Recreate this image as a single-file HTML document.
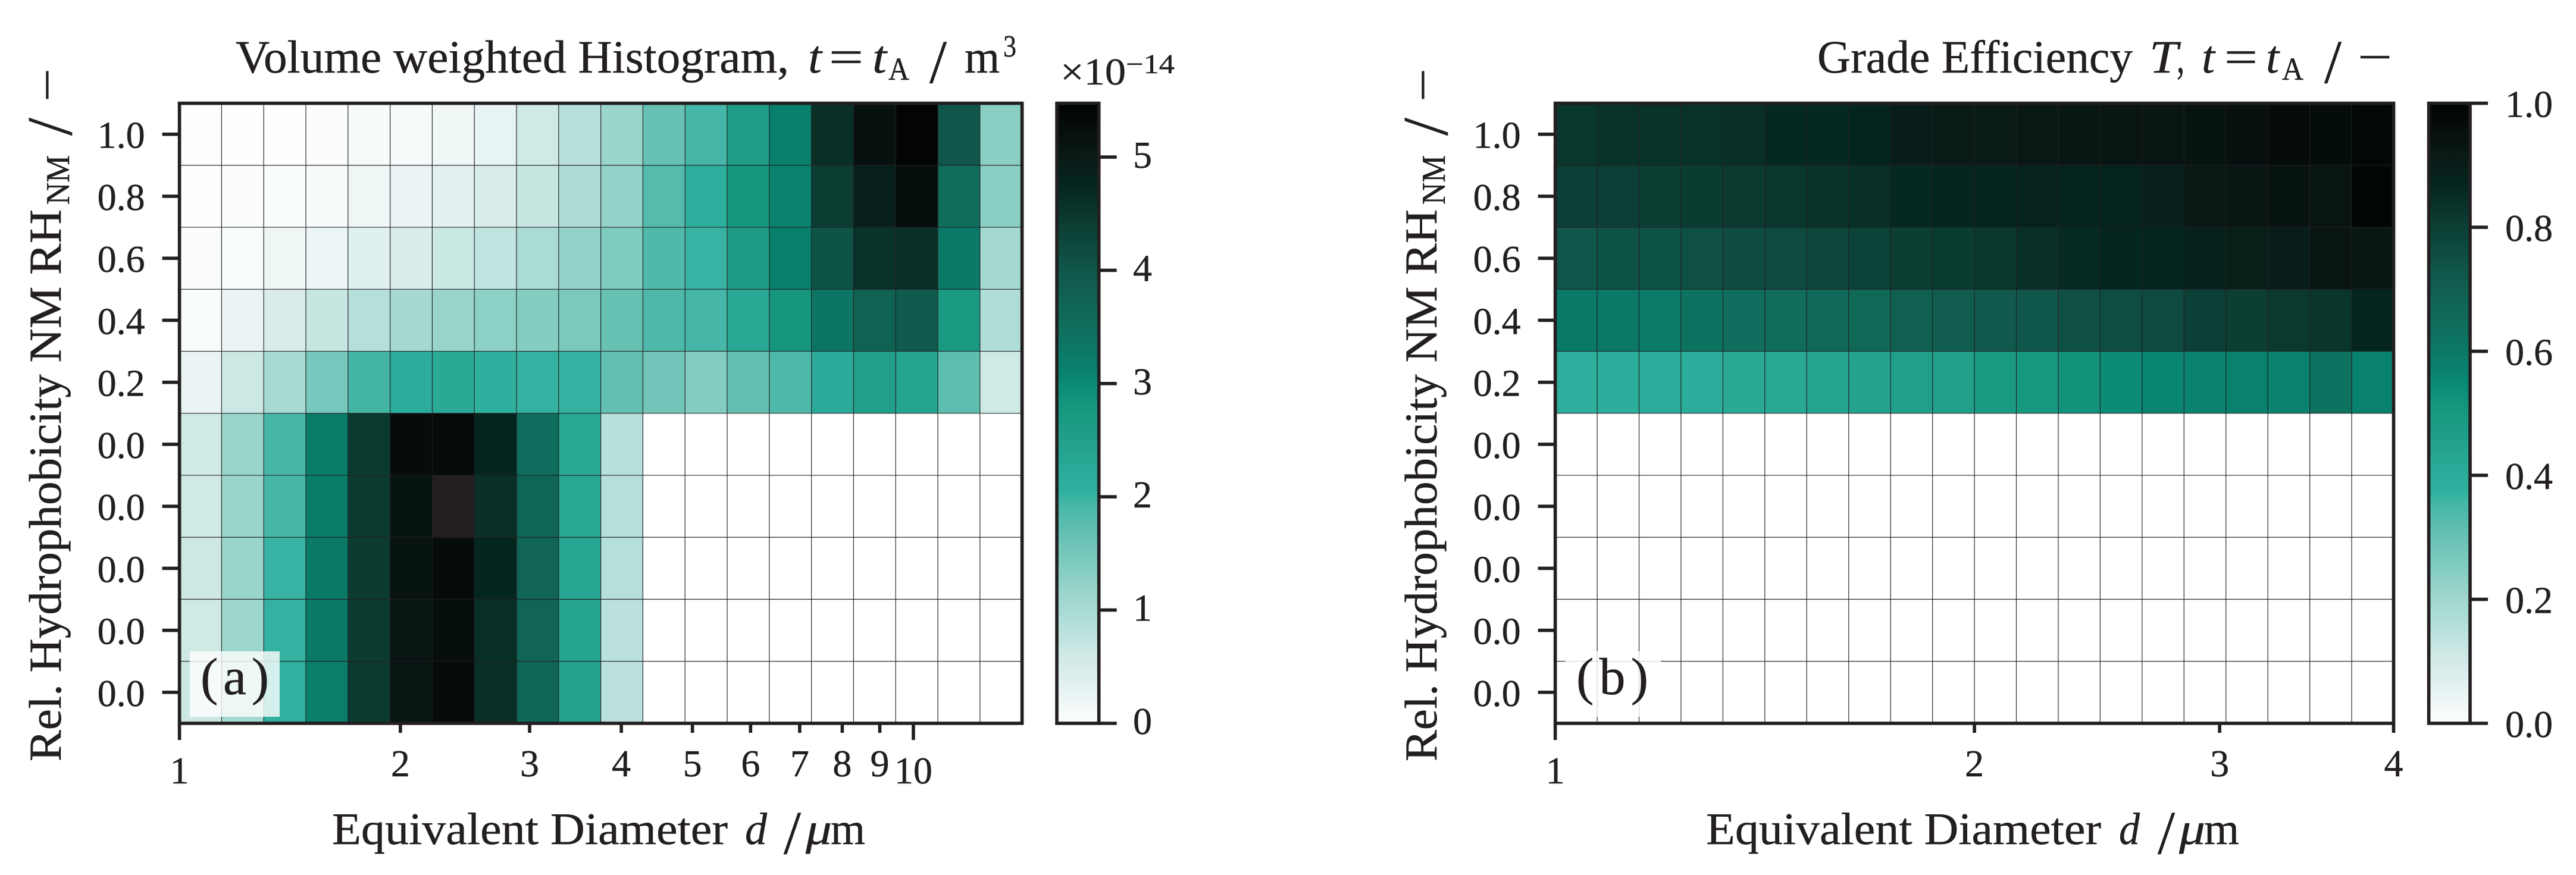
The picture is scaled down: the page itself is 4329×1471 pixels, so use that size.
<!DOCTYPE html>
<html lang="en">
<head>
<meta charset="utf-8">
<title>Volume weighted Histogram and Grade Efficiency</title>
<style>
html,body{margin:0;padding:0;background:#fff;}
svg{display:block;}
text{font-family:"Liberation Serif",serif;fill:#231f20;stroke:#231f20;stroke-width:0.5;text-rendering:geometricPrecision;}
.it{font-style:italic;}
</style>
</head>
<body>
<svg id="fig" xmlns="http://www.w3.org/2000/svg" width="4329" height="1471" viewBox="0 0 4329 1471">
<rect x="0" y="0" width="4329" height="1471" fill="#fff"/>
<g id="panelA"></g>
<g id="panelB"></g>

<g font-size="78">
<text x="396" y="122" textLength="930" lengthAdjust="spacingAndGlyphs">Volume weighted Histogram,</text>
<text class="it" x="1358" y="122" textLength="23" lengthAdjust="spacingAndGlyphs">t</text>
<text x="1393" y="122" textLength="58" lengthAdjust="spacingAndGlyphs">=</text>
<text class="it" x="1466" y="122" textLength="24" lengthAdjust="spacingAndGlyphs">t</text>
<text x="1493" y="134" font-size="54" textLength="35" lengthAdjust="spacingAndGlyphs">A</text>
<text x="1562" y="139" font-size="104" textLength="29" lengthAdjust="spacingAndGlyphs">/</text>
<text x="1621" y="122" textLength="59" lengthAdjust="spacingAndGlyphs">m</text>
<text x="1686" y="95" font-size="52" textLength="22" lengthAdjust="spacingAndGlyphs">3</text>
</g>
<g font-size="78">
<text x="3054" y="122" textLength="530" lengthAdjust="spacingAndGlyphs">Grade Efficiency</text>
<text class="it" x="3612" y="122" textLength="48" lengthAdjust="spacingAndGlyphs">T</text>
<text x="3658" y="122" textLength="13" lengthAdjust="spacingAndGlyphs">,</text>
<text class="it" x="3700" y="122" textLength="22" lengthAdjust="spacingAndGlyphs">t</text>
<text x="3738" y="122" textLength="56" lengthAdjust="spacingAndGlyphs">=</text>
<text class="it" x="3808" y="122" textLength="22" lengthAdjust="spacingAndGlyphs">t</text>
<text x="3835" y="134" font-size="54" textLength="36" lengthAdjust="spacingAndGlyphs">A</text>
<text x="3906" y="139" font-size="104" textLength="29" lengthAdjust="spacingAndGlyphs">/</text>
<text x="3962" y="122" textLength="58" lengthAdjust="spacingAndGlyphs">−</text>
</g>

<g font-size="76">
<text x="558" y="1419" textLength="665" lengthAdjust="spacingAndGlyphs">Equivalent Diameter</text>
<text class="it" x="1252" y="1419" textLength="37" lengthAdjust="spacingAndGlyphs">d</text>
<text x="1317" y="1435" font-size="104" textLength="29" lengthAdjust="spacingAndGlyphs">/</text>
<text class="it" x="1354" y="1419" textLength="44" lengthAdjust="spacingAndGlyphs">μ</text>
<text x="1396" y="1419" textLength="58" lengthAdjust="spacingAndGlyphs">m</text>
</g>
<g font-size="76">
<text x="2867" y="1419" textLength="664" lengthAdjust="spacingAndGlyphs">Equivalent Diameter</text>
<text class="it" x="3561" y="1419" textLength="35" lengthAdjust="spacingAndGlyphs">d</text>
<text x="3626" y="1435" font-size="104" textLength="29" lengthAdjust="spacingAndGlyphs">/</text>
<text class="it" x="3662" y="1419" textLength="44" lengthAdjust="spacingAndGlyphs">μ</text>
<text x="3704" y="1419" textLength="59" lengthAdjust="spacingAndGlyphs">m</text>
</g>

<g font-size="77">
<text transform="translate(102,1280) rotate(-90)" textLength="928" lengthAdjust="spacingAndGlyphs">Rel. Hydrophobicity NM RH</text>
<text transform="translate(116,344) rotate(-90)" font-size="56" textLength="83" lengthAdjust="spacingAndGlyphs">NM</text>
<text transform="translate(120,228) rotate(-90)" font-size="108" textLength="30" lengthAdjust="spacingAndGlyphs">/</text>
<text transform="translate(105,171) rotate(-90)" textLength="56" lengthAdjust="spacingAndGlyphs">−</text>
</g>
<g font-size="77">
<text transform="translate(2414,1280) rotate(-90)" textLength="928" lengthAdjust="spacingAndGlyphs">Rel. Hydrophobicity NM RH</text>
<text transform="translate(2428,344) rotate(-90)" font-size="56" textLength="83" lengthAdjust="spacingAndGlyphs">NM</text>
<text transform="translate(2432,228) rotate(-90)" font-size="108" textLength="30" lengthAdjust="spacingAndGlyphs">/</text>
<text transform="translate(2417,171) rotate(-90)" textLength="56" lengthAdjust="spacingAndGlyphs">−</text>
</g>

<g>
<text x="1782" y="142" font-size="64" textLength="110" lengthAdjust="spacingAndGlyphs">×10</text>
<text x="1892" y="123" font-size="46" textLength="82" lengthAdjust="spacingAndGlyphs">−14</text>
</g>
</svg>

<script>
/* Shared categories */
const rhLabels = ['1.0','0.8','0.6','0.4','0.2','0.0','0.0','0.0','0.0','0.0'];

/* Panel (a): volume weighted histogram, units of 1e-14 m^3 */
const histBinEdges = [1,1.1413,1.3026,1.4867,1.6968,1.9365,2.2102,2.5225,2.8790,3.2858,3.7502,4.2802,4.8851,5.5754,6.3634,7.2626,8.2890,9.4604,10.797,12.323,14.064];
const histXTicks = [1,2,3,4,5,6,7,8,9,10];
const histXTickLabels = ['1','2','3','4','5','6','7','8','9','10'];
const histXMajor = [1,10];
const histColorMax = 5.475;
const histColorTicks = [0,1,2,3,4,5];
const histColorTickLabels = ['0','1','2','3','4','5'];
const histValues = [
 [0,0,0,0.03,0.08,0.11,0.17,0.28,0.6,0.83,1.15,1.64,1.93,2.55,3.15,4.6,5.18,5.43,4.0,1.3],
 [0,0.03,0.05,0.08,0.2,0.25,0.35,0.48,0.69,0.95,1.23,1.8,2.1,2.8,3.1,4.4,4.88,5.24,3.53,1.3],
 [0.02,0.06,0.2,0.24,0.38,0.48,0.66,0.74,0.97,1.23,1.41,1.85,2.0,2.58,3.15,4.05,4.55,4.6,3.25,1.05],
 [0.06,0.25,0.46,0.68,0.87,1.03,1.17,1.28,1.36,1.46,1.64,1.87,1.93,2.29,2.8,3.37,3.75,3.9,2.7,0.92],
 [0.25,0.64,1.0,1.48,1.95,2.15,2.26,2.05,2.02,2.02,1.68,1.53,1.38,1.68,1.87,2.22,2.5,2.38,1.74,0.6],
 [0.6,1.15,1.91,3.2,4.45,5.28,5.3,4.75,3.5,2.29,0.83,null,null,null,null,null,null,null,null,null],
 [0.6,1.15,1.93,3.2,4.45,5.13,5.6,4.6,3.67,2.32,0.87,null,null,null,null,null,null,null,null,null],
 [0.62,1.15,2.0,3.25,4.43,5.13,5.28,4.75,3.69,2.36,0.87,null,null,null,null,null,null,null,null,null],
 [0.6,1.12,2.02,3.25,4.43,5.1,5.25,4.6,3.7,2.38,0.8,null,null,null,null,null,null,null,null,null],
 [0.62,1.03,2.04,3.18,4.45,5.1,5.3,4.6,3.65,2.44,0.8,null,null,null,null,null,null,null,null,null]
];

/* Panel (b): grade efficiency T */
const gradeBinEdges = [1,1.0718,1.1487,1.2311,1.3195,1.4142,1.5157,1.6245,1.7411,1.8661,2,2.1435,2.2974,2.4623,2.639,2.8284,3.0314,3.249,3.4822,3.7321,4];
const gradeXTicks = [1,2,3,4];
const gradeXTickLabels = ['1','2','3','4'];
const gradeXMajor = [1];
const gradeColorMax = 1;
const gradeColorTicks = [0,0.2,0.4,0.6,0.8,1];
const gradeColorTickLabels = ['0.0','0.2','0.4','0.6','0.8','1.0'];
const gradeValues = [
 [0.822,0.835,0.831,0.835,0.84,0.859,0.862,0.868,0.90,0.91,0.913,0.92,0.924,0.932,0.932,0.935,0.95,0.968,0.964,0.984],
 [0.798,0.798,0.80,0.807,0.813,0.822,0.831,0.84,0.862,0.866,0.868,0.88,0.873,0.877,0.891,0.92,0.928,0.935,0.932,0.988],
 [0.731,0.74,0.743,0.749,0.76,0.767,0.78,0.789,0.802,0.807,0.818,0.84,0.855,0.866,0.869,0.886,0.899,0.90,0.932,0.928],
 [0.594,0.597,0.588,0.621,0.639,0.648,0.658,0.665,0.694,0.703,0.721,0.727,0.749,0.758,0.767,0.798,0.80,0.815,0.827,0.868],
 [0.384,0.389,0.393,0.393,0.413,0.418,0.435,0.446,0.46,0.46,0.49,0.504,0.524,0.544,0.559,0.564,0.57,0.566,0.625,0.57],
 [null,null,null,null,null,null,null,null,null,null,null,null,null,null,null,null,null,null,null,null],
 [null,null,null,null,null,null,null,null,null,null,null,null,null,null,null,null,null,null,null,null],
 [null,null,null,null,null,null,null,null,null,null,null,null,null,null,null,null,null,null,null,null],
 [null,null,null,null,null,null,null,null,null,null,null,null,null,null,null,null,null,null,null,null],
 [null,null,null,null,null,null,null,null,null,null,null,null,null,null,null,null,null,null,null,null]
];

/* Colormap */
const cmapPositions = [0,0.009,0.051,0.084,0.11,0.148,0.183,0.219,0.258,0.303,0.349,0.374,0.424,0.471,0.504,0.548,0.572,0.652,0.731,0.813,0.869,0.913,1];
const cmapColors = ['#fdfefe','#f9fcfc','#e8f3f3','#d9eceb','#cfe9e5','#b9e1dd','#a8dad4','#96d3c9','#7ecbbf','#65c1b3','#49b7a8','#2fb09f','#28a795','#1f9c87','#179980','#0b8a75','#08806d','#106b5a','#10564a','#0b3a30','#04251e','#0a1a17','#020303'];
const overColor = '#231f20';
const ink = '#231f20';
const NS = 'http://www.w3.org/2000/svg';

function hexToRgb(h){ return [parseInt(h.substr(1,2),16),parseInt(h.substr(3,2),16),parseInt(h.substr(5,2),16)]; }
function colorFor(t){
  if(t>1) return overColor;
  if(t<=0) return cmapColors[0];
  for(let i=1;i<cmapPositions.length;i++){
    if(t<=cmapPositions[i]){
      const f=(t-cmapPositions[i-1])/(cmapPositions[i]-cmapPositions[i-1]);
      const a=hexToRgb(cmapColors[i-1]), b=hexToRgb(cmapColors[i]);
      return 'rgb('+Math.round(a[0]+(b[0]-a[0])*f)+','+Math.round(a[1]+(b[1]-a[1])*f)+','+Math.round(a[2]+(b[2]-a[2])*f)+')';
    }
  }
  return cmapColors[cmapColors.length-1];
}
function make(tag,attrs,parent){
  const el=document.createElementNS(NS,tag);
  for(const k in attrs) el.setAttribute(k,attrs[k]);
  parent.appendChild(el);
  return el;
}
function logScale(d0,d1,p0,p1){ return function(v){ return p0+(p1-p0)*(Math.log10(v)-Math.log10(d0))/(Math.log10(d1)-Math.log10(d0)); }; }
function linScale(d0,d1,p0,p1){ return function(v){ return p0+(p1-p0)*(v-d0)/(d1-d0); }; }

function drawPanel(root,o){
  const x=logScale(o.edges[0],o.edges[o.edges.length-1],o.left,o.right);
  const rows=o.values.length;
  const rowH=(o.bottom-o.top)/rows;
  const y=function(r){ return o.top+r*rowH; };

  const cells=make('g',{'shape-rendering':'crispEdges'},root);
  
  
  o.values.forEach(function(row,r){
    row.forEach(function(v,c){
      if(v===null) return;
      const rect=make('rect',{x:x(o.edges[c]),y:y(r),width:x(o.edges[c+1])-x(o.edges[c]),height:rowH,fill:colorFor(v/o.vmax)},cells);
      
      
    });
  });

  const grid=make('g',{stroke:ink,'stroke-width':1.2,'stroke-opacity':0.95},root);
  
  
  o.edges.slice(1,-1).forEach(function(e){
    const l=make('line',{x1:x(e),x2:x(e),y1:o.top,y2:o.bottom},grid);
    
    
  });
  for(let r=1;r<rows;r++){
    const l=make('line',{x1:o.left,x2:o.right,y1:y(r),y2:y(r)},grid);
    
    
  }

  const box=make('rect',{x:o.box[0],y:1095,width:o.box[1],height:110,fill:'#fff','fill-opacity':0.8},root);
  
  
  const plab=make('text',{x:o.label[0],y:1167,'font-size':88,textLength:o.label[1],lengthAdjust:'spacing'},root);
  plab.textContent=o.labelText;
  
  

  const spine=make('rect',{x:o.left,y:o.top,width:o.right-o.left,height:o.bottom-o.top,fill:'none',stroke:ink,'stroke-width':5.6},root);
  
  

  rhLabels.forEach(function(lab,r){
    const ty=y(r)+rowH/2;
    const t=make('line',{x1:o.left-29,x2:o.left,y1:ty,y2:ty,stroke:ink,'stroke-width':5.6},root);
    
    
    const tl=make('text',{x:o.left-58,y:ty+23,'font-size':64,'text-anchor':'end'},root);
    tl.textContent=lab;
    
    
  });

  o.xTicks.forEach(function(v,i){
    const major=o.xMajor.indexOf(v)>=0;
    const tx=x(v);
    const t=make('line',{x1:tx,x2:tx,y1:o.bottom,y2:o.bottom+(major?28:16),stroke:ink,'stroke-width':5.6},root);
    
    
    const tl=make('text',{x:tx,y:major?1317:1305,'font-size':64,'text-anchor':'middle'},root);
    tl.textContent=o.xTickLabels[i];
    
    
  });

  /* colorbar */
  const gid='cb-'+o.labelText.charAt(1);
  const defs=make('defs',{},root);
  const grad=make('linearGradient',{id:gid,x1:0,y1:1,x2:0,y2:0},defs);
  cmapPositions.forEach(function(p,i){ make('stop',{offset:p,'stop-color':cmapColors[i]},grad); });
  const cb=make('rect',{x:o.cbLeft,y:o.top,width:o.cbRight-o.cbLeft,height:o.bottom-o.top,fill:'url(#'+gid+')',stroke:ink,'stroke-width':5.6},root);
  
  
  const cy=linScale(0,o.vmax,o.bottom,o.top);
  o.cbTicks.forEach(function(v,i){
    const ty=cy(v);
    const t=make('line',{x1:o.cbRight,x2:o.cbRight+30,y1:ty,y2:ty,stroke:ink,'stroke-width':5.6},root);
    
    
    const tl=make('text',{x:o.cbLabelX,y:ty+o.cbLabelDy,'font-size':64},root);
    tl.textContent=o.cbTickLabels[i];
    
    
  });
}

drawPanel(document.getElementById('panelA'),{
  edges:histBinEdges,values:histValues,vmax:histColorMax,left:301.6,right:1717.6,top:173.6,bottom:1216,
  xTicks:histXTicks,xTickLabels:histXTickLabels,xMajor:histXMajor,
  cbLeft:1776,cbRight:1846.7,cbTicks:histColorTicks,cbTickLabels:histColorTickLabels,cbLabelX:1904,cbLabelDy:18,
  box:[319,151],label:[337,115],labelText:'(a)'
});
drawPanel(document.getElementById('panelB'),{
  edges:gradeBinEdges,values:gradeValues,vmax:gradeColorMax,left:2613.6,right:4022.5,top:173.6,bottom:1216,
  xTicks:gradeXTicks,xTickLabels:gradeXTickLabels,xMajor:gradeXMajor,
  cbLeft:4081.6,cbRight:4151,cbTicks:gradeColorTicks,cbTickLabels:gradeColorTickLabels,cbLabelX:4210,cbLabelDy:23,
  box:[2630,161],label:[2649,121],labelText:'(b)'
});
</script>
</body>
</html>
